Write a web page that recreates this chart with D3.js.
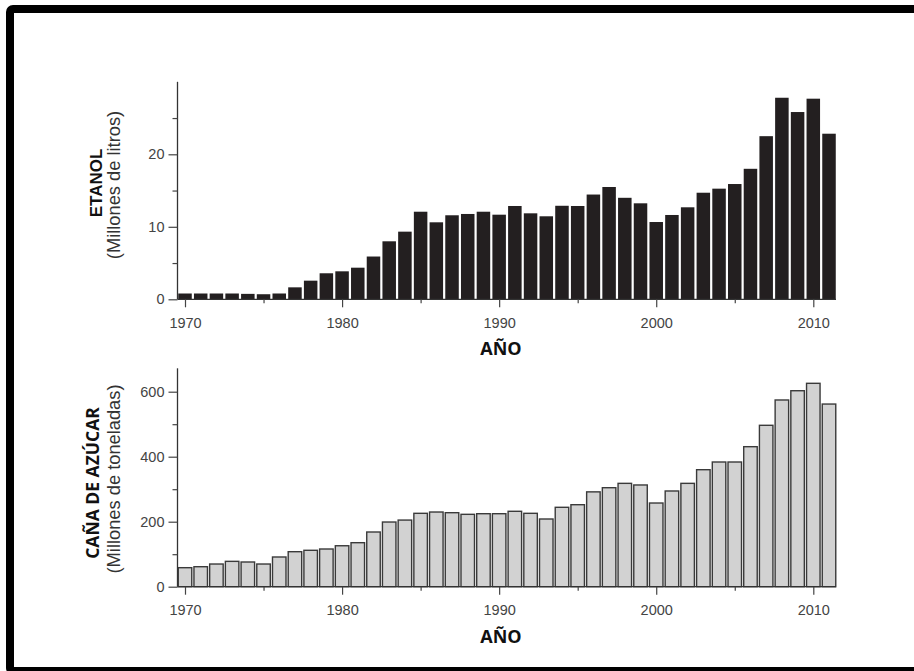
<!DOCTYPE html>
<html>
<head>
<meta charset="utf-8">
<script src="https://cdn.jsdelivr.net/npm/d3@7/dist/d3.min.js"></script>
<style>
  html, body { margin: 0; padding: 0; background: #fff; }
  svg { display: block; }
</style>
</head>
<body>
<svg id="chart" width="914" height="671"></svg>
<script>
// Years 1970–2011
const years = d3.range(1970, 2012);

// Ethanol production (millions of litres)
const etanol = [
  0.8, 0.8, 0.8, 0.8, 0.75, 0.7, 0.8, 1.65, 2.57, 3.59,
  3.86, 4.36, 5.9, 8.0, 9.33, 12.08, 10.62, 11.59, 11.77, 12.08,
  11.67, 12.87, 11.86, 11.45, 12.9, 12.87, 14.45, 15.49, 14.0, 13.24,
  10.66, 11.63, 12.69, 14.7, 15.26, 15.9, 18.0, 22.5, 27.8, 25.83,
  27.67, 22.84
];

// Sugar cane production (millions of tonnes)
const cana = [
  58.5, 61.5, 69.8, 78, 76, 69.8, 91.4, 107.7, 112, 116,
  126, 135.4, 168.3, 199, 205, 225.8, 229.8, 227.7, 222.7, 224.6,
  224.6, 232, 225.8, 208.3, 244.3, 252.3, 291.8, 304.6, 318, 313,
  257.5, 294.5, 318, 360, 383.7, 383.7, 430.8, 496.6, 574.5, 603,
  625.8, 562
];

const xMajorTicks = [1970, 1980, 1990, 2000, 2010];
const xMinorTicks = [1975, 1985, 1995, 2005];
const etanolTicks = [0, 10, 20];
const etanolMinor = [5, 15, 25];
const canaTicks = [0, 200, 400, 600];
const canaMinor = [100, 300, 500];

const svg = d3.select("#chart");

// Frame around the figure
svg.append("rect")
  .attr("x", 10).attr("y", 9)
  .attr("width", 930).attr("height", 662)
  .attr("rx", 3)
  .attr("fill", "none")
  .attr("stroke", "#000")
  .attr("stroke-width", 8);

const x = d3.scaleLinear().domain([1970, 2010]).range([185, 813.3]);
const halfBar = 0.43;
const axisLeft = 177.5;
const axisRight = x(2011) + 7;

function panel(opts) {
  const y = d3.scaleLinear().domain([0, opts.yMax]).range([opts.y0, opts.yTop]);
  const g = svg.append("g");

  // bars
  g.append("g").selectAll("rect")
    .data(opts.values)
    .join("rect")
    .attr("x", (d, i) => x(years[i] - halfBar))
    .attr("width", (d, i) => x(years[i] + halfBar) - x(years[i] - halfBar))
    .attr("y", d => y(d))
    .attr("height", d => y(0) - y(d))
    .attr("fill", opts.fill)
    .attr("stroke", opts.stroke)
    .attr("stroke-width", opts.strokeWidth);

  // x baseline
  g.append("line")
    .attr("x1", axisLeft).attr("x2", axisRight)
    .attr("y1", y(0)).attr("y2", y(0))
    .attr("stroke", "#333").attr("stroke-width", 1.3);

  // y axis line
  g.append("line")
    .attr("x1", axisLeft).attr("x2", axisLeft)
    .attr("y1", y(0)).attr("y2", y(opts.yMax))
    .attr("stroke", "#333").attr("stroke-width", 1.3);

  // x axis: major with labels, minor ticks
  const xa = g.append("g")
    .attr("transform", `translate(0,${y(0)})`)
    .call(d3.axisBottom(x).tickValues(xMajorTicks).tickFormat(d3.format("d"))
      .tickSize(8).tickPadding(10));
  const xm = g.append("g")
    .attr("transform", `translate(0,${y(0)})`)
    .call(d3.axisBottom(x).tickValues(xMinorTicks).tickFormat("").tickSize(4));

  // y axis: major with labels, minor ticks
  const ya = g.append("g")
    .attr("transform", `translate(${axisLeft},0)`)
    .call(d3.axisLeft(y).tickValues(opts.ticks).tickSize(9).tickPadding(4));
  const ym = g.append("g")
    .attr("transform", `translate(${axisLeft},0)`)
    .call(d3.axisLeft(y).tickValues(opts.minor).tickFormat("").tickSize(5));

  [xa, xm, ya, ym].forEach(a => {
    a.select(".domain").remove();
    a.selectAll("line").attr("stroke", "#444").attr("stroke-width", 1.2);
    a.selectAll("text")
      .attr("fill", "#444")
      .style("font-family", "'Liberation Sans', Arial, sans-serif")
      .style("font-size", "14.5px");
  });

  // x axis title
  g.append("text")
    .attr("x", 501).attr("y", opts.y0 + 56)
    .attr("text-anchor", "middle")
    .style("font-family", "'Open Sans', sans-serif")
    .style("font-weight", "bold")
    .style("font-size", "18px")
    .attr("fill", "#111")
    .text("AÑO");

  // y axis titles (two lines, rotated)
  g.append("text")
    .attr("transform", `translate(${opts.titleX},${opts.titleY}) rotate(-90)`)
    .attr("text-anchor", "middle")
    .style("font-family", opts.titleFont)
    .style("font-weight", "bold")
    .style("font-size", opts.titleSize)
    .attr("fill", "#111")
    .text(opts.title);
  g.append("text")
    .attr("transform", `translate(120,${opts.subY}) rotate(-90)`)
    .attr("text-anchor", "middle")
    .style("font-family", "'Liberation Sans', Arial, sans-serif")
    .style("font-size", "18.3px")
    .attr("fill", "#333")
    .text(opts.sub);
}

panel({
  values: etanol, yMax: 30, y0: 299.3, yTop: 81.8,
  ticks: etanolTicks, minor: etanolMinor,
  fill: "#231f20", stroke: "none", strokeWidth: 0,
  title: "ETANOL", titleFont: "'Liberation Sans', Arial, sans-serif", titleSize: "17px",
  titleX: 101.5, titleY: 183,
  sub: "(Millones de litros)", subY: 185
});

panel({
  values: cana, yMax: 672, y0: 586.7, yTop: 368.3,
  ticks: canaTicks, minor: canaMinor,
  fill: "#d2d2d2", stroke: "#3a3a3a", strokeWidth: 1.4,
  title: "CAÑA DE AZÚCAR", titleFont: "'Open Sans', sans-serif", titleSize: "17.5px",
  titleX: 98.5, titleY: 483,
  sub: "(Millones de toneladas)", subY: 479
});
</script>
</body>
</html>
